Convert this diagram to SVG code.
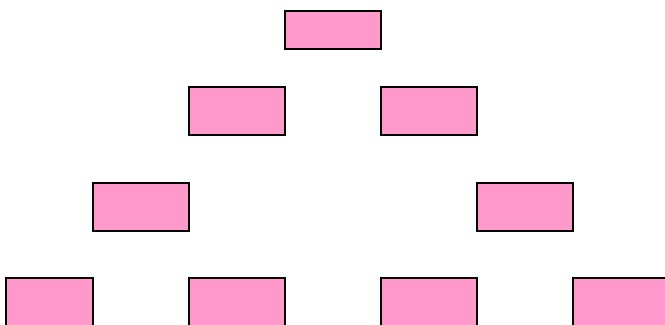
<svg xmlns="http://www.w3.org/2000/svg" width="665" height="325" viewBox="0 0 665 325">
<style>
.n{fill:#ff99cc;stroke:#000;stroke-width:2}
</style>
<rect width="665" height="325" fill="#fff"/>
<g id="connectors"></g>
<g id="n1"><rect class="n" x="285" y="11" width="96" height="38"/></g>
<g id="n2"><rect class="n" x="189" y="87" width="96" height="48"/></g>
<g id="n3"><rect class="n" x="381" y="87" width="96" height="48"/></g>
<g id="n4"><rect class="n" x="93" y="183" width="96" height="48"/></g>
<g id="n5"><rect class="n" x="477" y="183" width="96" height="48"/></g>
<g id="n6"><rect class="n" x="6" y="278" width="87" height="50"/></g>
<g id="n7"><rect class="n" x="189" y="278" width="96" height="50"/></g>
<g id="n8"><rect class="n" x="381" y="278" width="96" height="50"/></g>
<g id="n9"><rect class="n" x="573" y="278" width="96" height="50"/></g>
</svg>
